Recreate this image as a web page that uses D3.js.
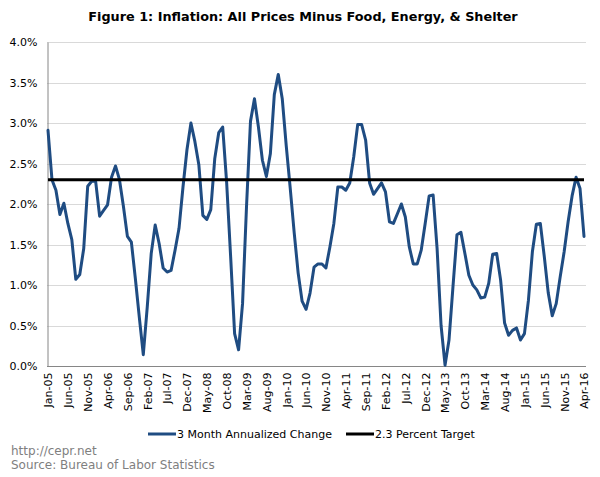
<!DOCTYPE html>
<html>
<head>
<meta charset="utf-8">
<script src="https://cdn.jsdelivr.net/npm/d3@7"></script>
<style>
  html, body { margin: 0; padding: 0; background: #fff; }
  svg { display: block; font-family: "DejaVu Sans", Verdana, sans-serif; }
</style>
</head>
<body>
<svg id="chart" width="600" height="477"></svg>
<script>
// ---------------- DATA ----------------
const categories = [
  "Jan-05","Feb-05","Mar-05","Apr-05","May-05","Jun-05","Jul-05","Aug-05","Sep-05","Oct-05","Nov-05","Dec-05",
  "Jan-06","Feb-06","Mar-06","Apr-06","May-06","Jun-06","Jul-06","Aug-06","Sep-06","Oct-06","Nov-06","Dec-06",
  "Jan-07","Feb-07","Mar-07","Apr-07","May-07","Jun-07","Jul-07","Aug-07","Sep-07","Oct-07","Nov-07","Dec-07",
  "Jan-08","Feb-08","Mar-08","Apr-08","May-08","Jun-08","Jul-08","Aug-08","Sep-08","Oct-08","Nov-08","Dec-08",
  "Jan-09","Feb-09","Mar-09","Apr-09","May-09","Jun-09","Jul-09","Aug-09","Sep-09","Oct-09","Nov-09","Dec-09",
  "Jan-10","Feb-10","Mar-10","Apr-10","May-10","Jun-10","Jul-10","Aug-10","Sep-10","Oct-10","Nov-10","Dec-10",
  "Jan-11","Feb-11","Mar-11","Apr-11","May-11","Jun-11","Jul-11","Aug-11","Sep-11","Oct-11","Nov-11","Dec-11",
  "Jan-12","Feb-12","Mar-12","Apr-12","May-12","Jun-12","Jul-12","Aug-12","Sep-12","Oct-12","Nov-12","Dec-12",
  "Jan-13","Feb-13","Mar-13","Apr-13","May-13","Jun-13","Jul-13","Aug-13","Sep-13","Oct-13","Nov-13","Dec-13",
  "Jan-14","Feb-14","Mar-14","Apr-14","May-14","Jun-14","Jul-14","Aug-14","Sep-14","Oct-14","Nov-14","Dec-14",
  "Jan-15","Feb-15","Mar-15","Apr-15","May-15","Jun-15","Jul-15","Aug-15","Sep-15","Oct-15","Nov-15","Dec-15",
  "Jan-16","Feb-16","Mar-16","Apr-16"
];

// 3 month annualized change (%)
const annualizedChange = [
  2.91, 2.30, 2.17, 1.87, 2.01, 1.76, 1.56, 1.07, 1.13, 1.45, 2.22, 2.28,
  2.28, 1.85, 1.92, 1.99, 2.33, 2.47, 2.30, 1.97, 1.60, 1.53, 1.08, 0.60,
  0.14, 0.73, 1.39, 1.74, 1.51, 1.21, 1.16, 1.18, 1.43, 1.70, 2.21, 2.67,
  3.00, 2.77, 2.48, 1.86, 1.81, 1.93, 2.56, 2.88, 2.95, 2.26, 1.35, 0.40,
  0.20, 0.77, 1.97, 3.02, 3.30, 2.95, 2.54, 2.34, 2.62, 3.35, 3.60, 3.30,
  2.72, 2.20, 1.65, 1.15, 0.80, 0.70, 0.90, 1.22, 1.26, 1.26, 1.21, 1.47,
  1.76, 2.21, 2.21, 2.17, 2.26, 2.58, 2.98, 2.98, 2.79, 2.26, 2.12, 2.19,
  2.26, 2.15, 1.78, 1.76, 1.88, 2.00, 1.84, 1.47, 1.26, 1.26, 1.43, 1.76,
  2.10, 2.11, 1.45, 0.50, 0.01, 0.32, 0.98, 1.62, 1.65, 1.39, 1.12, 1.00,
  0.94, 0.84, 0.85, 1.02, 1.38, 1.39, 1.06, 0.53, 0.38, 0.44, 0.47, 0.32,
  0.40, 0.81, 1.41, 1.75, 1.76, 1.35, 0.90, 0.62, 0.77, 1.10, 1.41, 1.78,
  2.10, 2.33, 2.19, 1.60
];

// 2.3 percent target
const targetValue = 2.3;

const xTickLabels = [
  "Jan-05","Jun-05","Nov-05","Apr-06","Sep-06","Feb-07","Jul-07","Dec-07","May-08","Oct-08",
  "Mar-09","Aug-09","Jan-10","Jun-10","Nov-10","Apr-11","Sep-11","Feb-12","Jul-12","Dec-12",
  "May-13","Oct-13","Mar-14","Aug-14","Jan-15","Jun-15","Nov-15","Apr-16"
];
const yTicks = [0, 0.5, 1.0, 1.5, 2.0, 2.5, 3.0, 3.5, 4.0];

const seriesNames = ["3 Month Annualized Change", "2.3 Percent Target"];
const titleText = "Figure 1: Inflation: All Prices Minus Food, Energy, & Shelter";
const footerLines = ["http://cepr.net", "Source: Bureau of Labor Statistics"];

// ---------------- CHART ----------------
const svg = d3.select("#chart");
const plot = { left: 47, right: 586, top: 42, bottom: 366 };
const blue = "#1F4C82";

const x = d3.scalePoint().domain(categories).range([48, 584]);
const y = d3.scaleLinear().domain([0, 4]).range([plot.bottom, plot.top]);

// title
svg.append("text")
  .attr("x", 303).attr("y", 21)
  .attr("text-anchor", "middle")
  .attr("font-weight", "bold")
  .attr("font-size", "12.8px")
  .attr("fill", "#000")
  .text(titleText);

// gridlines
svg.append("g")
  .selectAll("line")
  .data(yTicks.filter(d => d > 0))
  .join("line")
  .attr("x1", plot.left).attr("x2", plot.right)
  .attr("y1", d => Math.round(y(d)) + 0.5).attr("y2", d => Math.round(y(d)) + 0.5)
  .attr("stroke", "#D9D9D9").attr("stroke-width", 1);

// y axis
const yAxis = d3.axisLeft(y).tickValues(yTicks).tickFormat(d => d3.format(".1f")(d) + "%").tickSize(0).tickPadding(10);
const gy = svg.append("g").attr("transform", `translate(${plot.left + 0.5},0)`).call(yAxis);
gy.select(".domain").attr("stroke", "#868686");
gy.selectAll("text").attr("font-size", "11px").attr("fill", "#000").attr("font-family", "DejaVu Sans, Verdana, sans-serif");

// x axis
const xAxis = d3.axisBottom(x).tickValues(xTickLabels).tickSize(0).tickPadding(0);
const gx = svg.append("g").attr("transform", `translate(0,${plot.bottom + 0.5})`).call(xAxis);
gx.select(".domain").attr("stroke", "#868686").attr("d", `M${plot.left},0H${plot.right}`);
gx.selectAll("text")
  .attr("font-size", "11px").attr("fill", "#000")
  .attr("font-family", "DejaVu Sans, Verdana, sans-serif")
  .attr("text-anchor", "end")
  .attr("transform", "rotate(-90)")
  .attr("x", -6).attr("y", 0).attr("dy", "0.35em");

// lines
const lineGen = d3.line()
  .x((d, i) => x(categories[i]))
  .y(d => y(d));

svg.append("path")
  .datum(annualizedChange)
  .attr("d", lineGen)
  .attr("fill", "none")
  .attr("stroke", blue)
  .attr("stroke-width", 3)
  .attr("stroke-linejoin", "round")
  .attr("stroke-linecap", "round");

svg.append("path")
  .datum(categories.map(() => targetValue))
  .attr("d", lineGen)
  .attr("fill", "none")
  .attr("stroke", "#000")
  .attr("stroke-width", 3);

// legend
const legend = svg.append("g").attr("font-size", "11px").attr("fill", "#000");
const legendItems = [
  { name: seriesNames[0], color: blue, x0: 148 },
  { name: seriesNames[1], color: "#000", x0: 346 }
];
legendItems.forEach(it => {
  legend.append("line")
    .attr("x1", it.x0).attr("x2", it.x0 + 28)
    .attr("y1", 434).attr("y2", 434)
    .attr("stroke", it.color).attr("stroke-width", 3);
  legend.append("text")
    .attr("x", it.x0 + 29).attr("y", 434).attr("dy", "0.35em")
    .text(it.name);
});

// footer
svg.append("g")
  .selectAll("text")
  .data(footerLines)
  .join("text")
  .attr("x", 11).attr("y", (d, i) => 455 + i * 14)
  .attr("font-size", "12px")
  .attr("fill", "#7F7F7F")
  .text(d => d);
</script>
</body>
</html>
